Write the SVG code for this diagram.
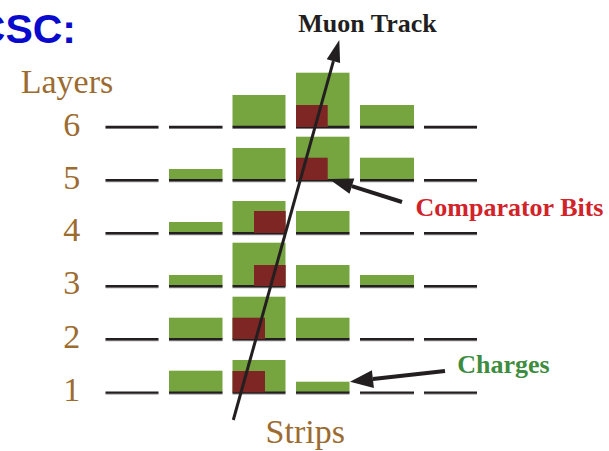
<svg xmlns="http://www.w3.org/2000/svg" width="609" height="451" viewBox="0 0 609 451">
<style>
.g{fill:#76a540}
.r{fill:#7e2624}
.ln{stroke:#231f20;stroke-width:2.4}
.sh{stroke:#9a9a9a;stroke-width:1}
.br{font-family:"Liberation Serif","Times New Roman",serif;fill:#9c6b30;font-size:34px;text-anchor:middle}
.lb{font-family:"Liberation Serif","Times New Roman",serif;font-weight:bold;font-size:26px;text-anchor:middle}
.conn{stroke:#231f20;fill:none}
.head{fill:#231f20}
</style>
<rect width="609" height="451" fill="#ffffff"/>
<g id="title"><text x="76" y="42.7" text-anchor="end" font-family="'Liberation Sans',Arial,sans-serif" font-weight="bold" font-size="41" fill="#0a0acc">CSC:</text></g>
<g id="layers-label"><text class="br" x="67" y="93.3">Layers</text></g>
<g id="layer-numbers">
<text class="br" x="71.7" y="135.7">6</text>
<text class="br" x="71.7" y="188.7">5</text>
<text class="br" x="71.7" y="241">4</text>
<text class="br" x="71.7" y="294.3">3</text>
<text class="br" x="71.7" y="347.6">2</text>
<text class="br" x="71.7" y="401">1</text>
</g>
<g id="charges-blocks">
<!-- row 6 -->
<rect class="g" x="232.5" y="95" width="53" height="32"/>
<rect class="g" x="296" y="72.7" width="53.5" height="54.3"/>
<rect class="g" x="360" y="105" width="54" height="22"/>
<!-- row 5 -->
<rect class="g" x="169" y="169" width="53.5" height="11"/>
<rect class="g" x="232.5" y="148" width="53" height="32"/>
<rect class="g" x="296" y="136.7" width="53.5" height="43.3"/>
<rect class="g" x="360" y="157.7" width="54" height="22.3"/>
<!-- row 4 -->
<rect class="g" x="169" y="222" width="53.5" height="11"/>
<rect class="g" x="232.5" y="201" width="53" height="32"/>
<rect class="g" x="296" y="211" width="53.5" height="22"/>
<!-- row 3 -->
<rect class="g" x="169" y="275" width="53.5" height="11"/>
<rect class="g" x="232.5" y="242.7" width="53" height="43.3"/>
<rect class="g" x="296" y="265" width="53.5" height="21"/>
<rect class="g" x="360" y="275" width="54" height="11"/>
<!-- row 2 -->
<rect class="g" x="169" y="317.7" width="53.5" height="21.3"/>
<rect class="g" x="232.5" y="296.7" width="53" height="42.3"/>
<rect class="g" x="296" y="317.7" width="53.5" height="21.3"/>
<!-- row 1 -->
<rect class="g" x="169" y="370.7" width="53.5" height="21.6"/>
<rect class="g" x="232.5" y="360" width="53" height="32.3"/>
<rect class="g" x="296" y="381.7" width="53.5" height="10.6"/>
</g>
<g id="strip-lines">
<g class="sh">
<path d="M105.5 128.5h53M169 128.5h53.5M232.5 128.5h53M296 128.5h53.5M360 128.5h54M424 128.5h53"/>
<path d="M105.5 181.8h53M169 181.8h53.5M232.5 181.8h53M296 181.8h53.5M360 181.8h54M424 181.8h53"/>
<path d="M105.5 234.8h53M169 234.8h53.5M232.5 234.8h53M296 234.8h53.5M360 234.8h54M424 234.8h53"/>
<path d="M105.5 287.8h53M169 287.8h53.5M232.5 287.8h53M296 287.8h53.5M360 287.8h54M424 287.8h53"/>
<path d="M105.5 340.8h53M169 340.8h53.5M232.5 340.8h53M296 340.8h53.5M360 340.8h54M424 340.8h53"/>
<path d="M105.5 394.1h53M169 394.1h53.5M232.5 394.1h53M296 394.1h53.5M360 394.1h54M424 394.1h53"/>
</g>
<g class="ln">
<path d="M105.5 127h53M169 127h53.5M232.5 127h53M296 127h53.5M360 127h54M424 127h53"/>
<path d="M105.5 180.3h53M169 180.3h53.5M232.5 180.3h53M296 180.3h53.5M360 180.3h54M424 180.3h53"/>
<path d="M105.5 233.3h53M169 233.3h53.5M232.5 233.3h53M296 233.3h53.5M360 233.3h54M424 233.3h53"/>
<path d="M105.5 286.3h53M169 286.3h53.5M232.5 286.3h53M296 286.3h53.5M360 286.3h54M424 286.3h53"/>
<path d="M105.5 339.3h53M169 339.3h53.5M232.5 339.3h53M296 339.3h53.5M360 339.3h54M424 339.3h53"/>
<path d="M105.5 392.6h53M169 392.6h53.5M232.5 392.6h53M296 392.6h53.5M360 392.6h54M424 392.6h53"/>
</g>
</g>
<g id="comparator-bits">
<rect class="r" x="296" y="105" width="31.7" height="22"/>
<rect class="r" x="296" y="157.7" width="31.7" height="22.3"/>
<rect class="r" x="254" y="211" width="31.7" height="22"/>
<rect class="r" x="254" y="265" width="31.7" height="21"/>
<rect class="r" x="232.5" y="317.7" width="32.5" height="21.3"/>
<rect class="r" x="232.5" y="371" width="32.5" height="21.3"/>
</g>
<g id="connectors">
<line class="conn" x1="233.3" y1="420" x2="333.4" y2="61.2" stroke-width="3"/>
<polygon class="head" points="339.3,40 340.1,63.1 326.7,59.3"/>
<line class="conn" x1="402" y1="202" x2="351.9" y2="186.2" stroke-width="4"/>
<polygon class="head" points="329,179 354.3,178.6 349.5,193.8"/>
<line class="conn" x1="445" y1="371" x2="372.9" y2="379.1" stroke-width="4"/>
<polygon class="head" points="350,381.7 373.9,388 371.9,370.2"/>
</g>
<g id="muon-track-label"><text class="lb" x="367.5" y="31.7" fill="#231f20">Muon Track</text></g>
<g id="comparator-label"><text class="lb" x="509.5" y="215.7" fill="#d1232a">Comparator Bits</text></g>
<g id="charges-label"><text class="lb" x="503.5" y="373.3" fill="#3d8c40">Charges</text></g>
<g id="strips-label"><text class="br" x="305.3" y="443.3">Strips</text></g>
</svg>
